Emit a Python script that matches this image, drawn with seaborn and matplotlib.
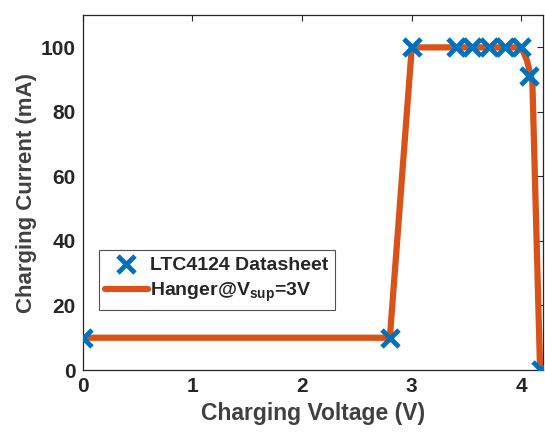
import matplotlib
matplotlib.use("Agg")
import matplotlib.pyplot as plt
import seaborn as sns
import pandas as pd

# data
ds_voltage = [0.0, 2.8, 3.0, 3.4, 3.55, 3.7, 3.85, 4.0, 4.07, 4.18]
ds_current = [10, 10, 100, 100, 100, 100, 100, 100, 91, 0]
sim_voltage = [0.0, 2.8, 3.0, 4.0, 4.05, 4.1, 4.17]
sim_current = [10, 10, 100, 100, 96, 89, 0]
x_ticks = [0, 1, 2, 3, 4]
y_ticks = [0, 20, 40, 60, 80, 100]

sns.set_style("white")
plt.rcParams['font.family'] = ['Liberation Sans', 'DejaVu Sans']
plt.rcParams['font.weight'] = 'bold'
plt.rcParams['mathtext.fontset'] = 'custom'
plt.rcParams['mathtext.bf'] = 'Liberation Sans:bold'

blue = "#0072BD"
orange = "#D95319"

fig = plt.figure(figsize=(5.45, 4.32), dpi=100)
ax = fig.add_axes([0.152, 0.1435, 0.845, 0.8215])

df_sim = pd.DataFrame({"v": sim_voltage, "i": sim_current})
df_ds = pd.DataFrame({"v": ds_voltage, "i": ds_current})

sns.lineplot(data=df_sim, x="v", y="i", ax=ax, color=orange, linewidth=4.5,
             sort=False, label="Hanger@V$_{\\mathbf{sup}}$=3V", zorder=2)
sns.scatterplot(data=df_ds, x="v", y="i", ax=ax, color=blue, marker="x", s=150,
                linewidth=3.5, label="LTC4124 Datasheet", zorder=3)

ax.set_xlim(0, 4.2)
ax.set_ylim(0, 110)
ax.set_xticks(x_ticks)
ax.set_yticks(y_ticks)
ax.tick_params(direction="in", top=True, right=True, length=4, width=0.8,
               labelsize=15, colors="#262626", pad=5)
for lab in ax.get_xticklabels() + ax.get_yticklabels():
    lab.set_fontweight("bold")
for s in ax.spines.values():
    s.set_color("#262626")
    s.set_linewidth(0.9)
    s.set_visible(True)

ax.set_xlabel("Charging Voltage (V)", fontsize=16.5, fontweight="bold", color="#404040", labelpad=4)
ax.set_ylabel("Charging Current (mA)", fontsize=16, fontweight="bold", color="#404040", labelpad=3)

handles, labels = ax.get_legend_handles_labels()
order = [1, 0]
leg = ax.legend([handles[i] for i in order], [labels[i] for i in order],
                loc="lower left", bbox_to_anchor=(0.035, 0.17), fontsize=14,
                frameon=True, fancybox=False, edgecolor="#262626",
                handlelength=2.2, handletextpad=0.15, borderpad=0.3,
                labelspacing=0.35, borderaxespad=0)
leg.get_frame().set_linewidth(0.8)
for t in leg.get_texts():
    t.set_fontweight("bold")

fig.savefig("out.png", dpi=100)
